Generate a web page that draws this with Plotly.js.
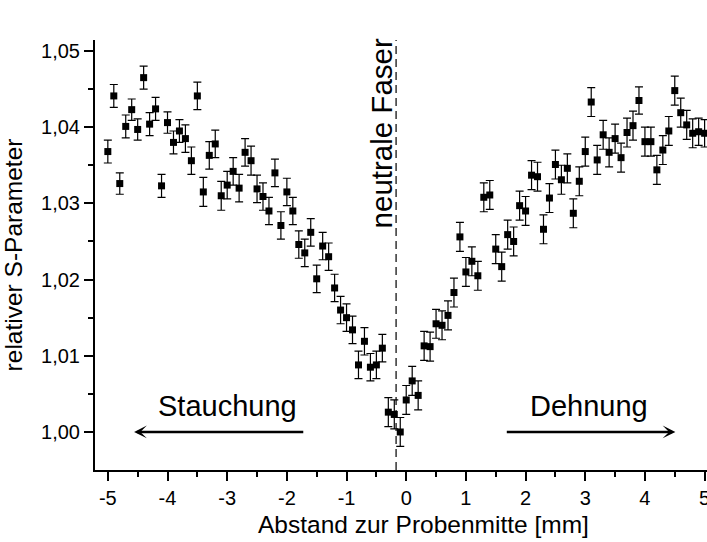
<!DOCTYPE html>
<html>
<head>
<meta charset="utf-8">
<script src="https://cdn.plot.ly/plotly-3.0.1.min.js"></script>
<style>html,body{margin:0;padding:0;background:#fff}#chart{width:707px;height:542px}</style>
</head>
<body>
<div id="chart"></div>
<script>
// Position relative to sample centre [mm]
const xPos = [-5.0,-4.9,-4.8,-4.7,-4.6,-4.5,-4.4,-4.3,-4.2,-4.1,
  -4.0,-3.9,-3.8,-3.7,-3.6,-3.5,-3.4,-3.3,-3.2,-3.1,
  -3.0,-2.9,-2.8,-2.7,-2.6,-2.5,-2.4,-2.3,-2.2,-2.1,
  -2.0,-1.9,-1.8,-1.7,-1.6,-1.5,-1.4,-1.3,-1.2,-1.1,
  -1.0,-0.9,-0.8,-0.7,-0.6,-0.5,-0.4,-0.3,-0.2,-0.1,
  0.0,0.1,0.2,0.3,0.4,0.5,0.6,0.7,0.8,0.9,
  1.0,1.1,1.2,1.3,1.4,1.5,1.6,1.7,1.8,1.9,
  2.0,2.1,2.2,2.3,2.4,2.5,2.6,2.7,2.8,2.9,
  3.0,3.1,3.2,3.3,3.4,3.5,3.6,3.7,3.8,3.9,
  4.0,4.1,4.2,4.3,4.4,4.5,4.6,4.7,4.8,4.9,5.0];
// relative S-parameter
const sParam = [1.0368,1.0441,1.0326,1.0401,1.0423,1.0397,1.0465,1.0404,1.0424,1.0323,
  1.0406,1.0380,1.0395,1.0385,1.0356,1.0441,1.0315,1.0363,1.0378,1.0310,
  1.0324,1.0342,1.0320,1.0367,1.0356,1.0319,1.0309,1.0290,1.0340,1.0271,
  1.0315,1.0290,1.0246,1.0235,1.0262,1.0201,1.0244,1.0230,1.0189,1.0160,
  1.0150,1.0134,1.0088,1.0119,1.0085,1.0088,1.0110,1.0026,1.0023,1.0000,
  1.0042,1.0067,1.0048,1.0113,1.0112,1.0142,1.0140,1.0153,1.0183,1.0256,
  1.0210,1.0224,1.0205,1.0308,1.0311,1.0240,1.0217,1.0259,1.0250,1.0297,
  1.0290,1.0337,1.0335,1.0266,1.0307,1.0351,1.0331,1.0346,1.0287,1.0329,
  1.0368,1.0433,1.0357,1.0390,1.0367,1.0385,1.0360,1.0393,1.0402,1.0435,
  1.0381,1.0381,1.0344,1.0370,1.0395,1.0448,1.0419,1.0403,1.0392,1.0394,1.0392];
// error (half bar length)
const sErr = [0.0015,0.0015,0.0014,0.0015,0.0014,0.0014,0.0015,0.0015,0.0015,0.0015,
  0.0014,0.0015,0.0015,0.0018,0.0018,0.0018,0.0019,0.0018,0.0018,0.0019,
  0.0018,0.0018,0.0018,0.0018,0.0019,0.0018,0.0018,0.0018,0.0018,0.0018,
  0.0018,0.0018,0.0018,0.0018,0.0018,0.0018,0.0018,0.0018,0.0018,0.0018,
  0.0018,0.0018,0.0018,0.0018,0.0018,0.0018,0.0018,0.0019,0.0019,0.0019,
  0.0019,0.0019,0.0019,0.0019,0.0019,0.0019,0.0019,0.0019,0.0019,0.0019,
  0.0019,0.0019,0.0019,0.0019,0.0019,0.0019,0.0019,0.0019,0.0019,0.0019,
  0.0019,0.0019,0.0019,0.0019,0.0019,0.0019,0.0019,0.0019,0.0019,0.0019,
  0.0019,0.0019,0.0019,0.0019,0.0019,0.0019,0.0019,0.0019,0.0019,0.0018,
  0.0019,0.0019,0.0019,0.0019,0.0019,0.0019,0.0019,0.0019,0.0019,0.0018,0.0018];

const xTickVals = [-5,-4,-3,-2,-1,0,1,2,3,4,5];
const xTickText = ['-5','-4','-3','-2','-1','0','1','2','3','4','5'];
const yTickVals = [1.00,1.01,1.02,1.03,1.04,1.05];
const yTickText = ['1,00','1,01','1,02','1,03','1,04','1,05'];

const neutralFibre = -0.17;
const xTitle = 'Abstand zur Probenmitte [mm]';
const yTitle = 'relativer S-Parameter';
const labelNeutral = 'neutrale Faser';
const labelCompress = 'Stauchung';
const labelStretch = 'Dehnung';

const FONT = '"Liberation Sans", Arial, Helvetica, sans-serif';

const trace = {
  x: xPos, y: sParam, type: 'scatter', mode: 'markers',
  marker: {symbol: 'square', size: 7, color: '#000'},
  error_y: {type: 'data', array: sErr, visible: true, color: '#000', thickness: 1.2, width: 4},
  showlegend: false, hoverinfo: 'x+y'
};

const axisCommon = {
  showline: true, linecolor: '#000', linewidth: 2, mirror: false,
  showgrid: false, zeroline: false,
  ticks: 'outside', ticklen: 9, tickwidth: 2, tickcolor: '#000',
  tickfont: {family: FONT, size: 20, color: '#000'},
  tickmode: 'array', ticklabeloverflow: 'allow'
};

const layout = {
  width: 707, height: 542,
  margin: {l: 95, r: 0, t: 40, b: 72},
  paper_bgcolor: '#fff', plot_bgcolor: '#fff',
  font: {family: FONT, color: '#000'},
  xaxis: Object.assign({}, axisCommon, {
    range: [-5.215, 5.04],
    tickvals: xTickVals, ticktext: xTickText,
    minor: {tickmode: 'linear', tick0: 0.5, dtick: 1, ticks: 'outside', ticklen: 5, tickwidth: 2, tickcolor: '#000', showgrid: false}
  }),
  yaxis: Object.assign({}, axisCommon, {
    range: [0.99501, 1.05144],
    tickvals: yTickVals, ticktext: yTickText,
    minor: {tickmode: 'linear', tick0: 1.005, dtick: 0.01, ticks: 'outside', ticklen: 5, tickwidth: 2, tickcolor: '#000', showgrid: false},
    title: {text: yTitle, font: {family: FONT, size: 24.5, color: '#000'}, standoff: 12}
  }),
  shapes: [{
    type: 'line', xref: 'x', yref: 'paper', x0: neutralFibre, x1: neutralFibre, y0: 0, y1: 1,
    line: {color: '#000', width: 1.2, dash: '8px,5px'}
  }],
  annotations: [
    {xref: 'paper', yref: 'paper', x: 0.536, y: -0.1256, xanchor: 'center', yanchor: 'middle',
     text: xTitle, showarrow: false, font: {family: FONT, size: 24.5, color: '#000'}},
    {xref: 'x', yref: 'y', x: -0.42, y: 1.0392, text: labelNeutral, textangle: -90, showarrow: false,
     font: {family: FONT, size: 29.5, color: '#000'}},
    {xref: 'x', yref: 'y', x: -3.0, y: 1.0034, text: labelCompress, showarrow: false,
     font: {family: FONT, size: 29, color: '#000'}},
    {xref: 'x', yref: 'y', x: 3.07, y: 1.0034, text: labelStretch, showarrow: false,
     font: {family: FONT, size: 29, color: '#000'}},
    {xref: 'x', yref: 'y', x: -4.56, y: 1.0, axref: 'x', ayref: 'y', ax: -1.70, ay: 1.0, text: '',
     showarrow: true, arrowhead: 3, arrowsize: 0.85, arrowwidth: 2.5, arrowcolor: '#000'},
    {xref: 'x', yref: 'y', x: 4.51, y: 1.0, axref: 'x', ayref: 'y', ax: 1.66, ay: 1.0, text: '',
     showarrow: true, arrowhead: 3, arrowsize: 0.85, arrowwidth: 2.5, arrowcolor: '#000'}
  ]
};

Plotly.newPlot('chart', [trace], layout, {displayModeBar: false, staticPlot: true});
</script>
</body>
</html>
